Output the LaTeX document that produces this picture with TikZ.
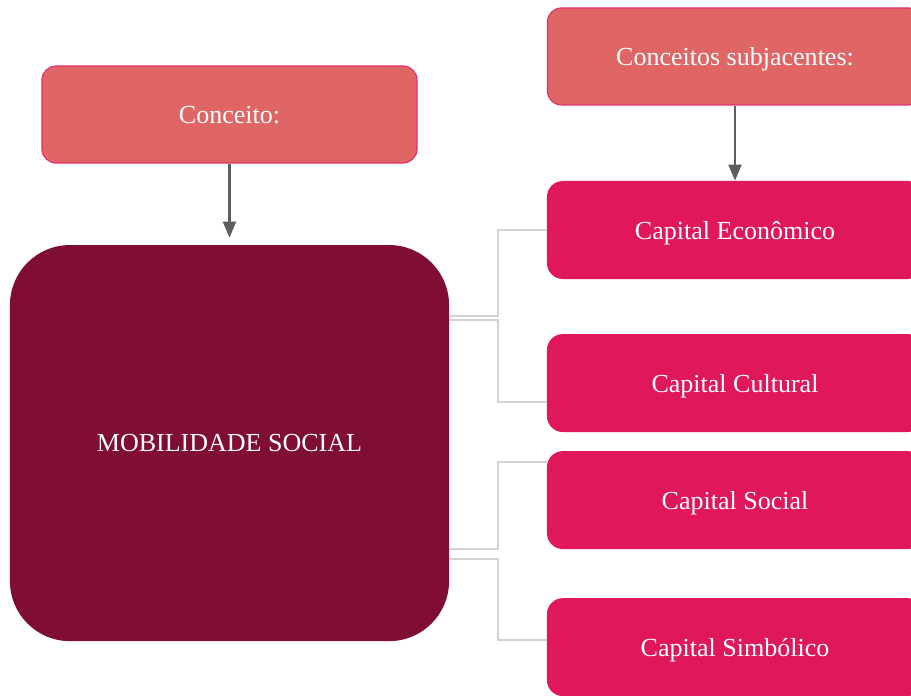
\documentclass[tikz,border=0pt]{standalone}
\usepackage{fontspec}
\setmainfont{Liberation Serif}
\usetikzlibrary{positioning,calc,arrows.meta}
\definecolor{colorHD}{HTML}{E06666}
\definecolor{colorHDB}{HTML}{E0306A}
\definecolor{colorMN}{HTML}{800D33}
\definecolor{colorCP}{HTML}{E0175A}
\definecolor{colorAR}{HTML}{5E5E5E}
\definecolor{colorLK}{HTML}{D2D2D2}
\tikzset{
   every path/.style={>={Triangle[length=0.4cm,width=0.32cm]}},
   box/.style={rectangle,align=center,text=white,text depth=0pt,font=\fontsize{18.5}{22}\selectfont},
   hd/.style={box,fill=colorHD,draw=colorHDB,line width=0.8pt,rounded corners=0.35cm,minimum width=9.375cm,minimum height=2.425cm},
   mn/.style={box,fill=colorMN,rounded corners=1.5cm,minimum width=10.975cm,minimum height=9.9cm},
   cp/.style={box,fill=colorCP,rounded corners=0.4cm,minimum width=9.4cm,minimum height=2.45cm},
   ar/.style={->,color=colorAR,line width=1.8pt},
   lk/.style={-,color=colorLK,line width=1.4pt},
}

\begin{document}
\begin{tikzpicture}[x=0.025cm,y=-0.025cm]
      \clip (0,0) rectangle (911,695);

      \node (conc) [hd] at (229.5,114.5) {Conceito:};

      \node (mob) [mn, below of = conc, node distance = 8.2125cm]
        % at (229.5,443)
        {MOBILIDADE SOCIAL};

      \node (ceco) [cp] at (735,230) {Capital Econômico};

      \node (subj) [hd, above of = ceco, node distance = 4.3375cm]
        % at (735,56.5)
        {Conceitos subjacentes:};

      \node (ccul) [cp, below of = ceco, node distance = 3.825cm]
        % at (735,383)
        {Capital Cultural};

      \node (csoc) [cp, below of = ccul, node distance = 2.925cm]
        % at (735,500)
        {Capital Social};

      \node (csim) [cp, below of = csoc, node distance = 3.675cm]
        % at (735,647)
        {Capital Simbólico};

      \draw[ar, shorten >=0.175cm] (conc) -- (mob);
      \draw[ar] (subj) -- (ceco);

      \coordinate (fa) at (498,316);
      \coordinate (fb) at (498,320);
      \coordinate (fc) at (498,549);
      \coordinate (fd) at (498,559);

      \draw[lk] (mob.east |- fa) -- (fa) |- (ceco.west);
      \draw[lk] (mob.east |- fb) -- (fb) |- ([yshift=-0.475cm]ccul.west);
      \draw[lk] (mob.east |- fc) -- (fc) |- ([yshift=0.95cm]csoc.west);
      \draw[lk] (mob.east |- fd) -- (fd) |- ([yshift=0.175cm]csim.west);
\end{tikzpicture}
\end{document}
